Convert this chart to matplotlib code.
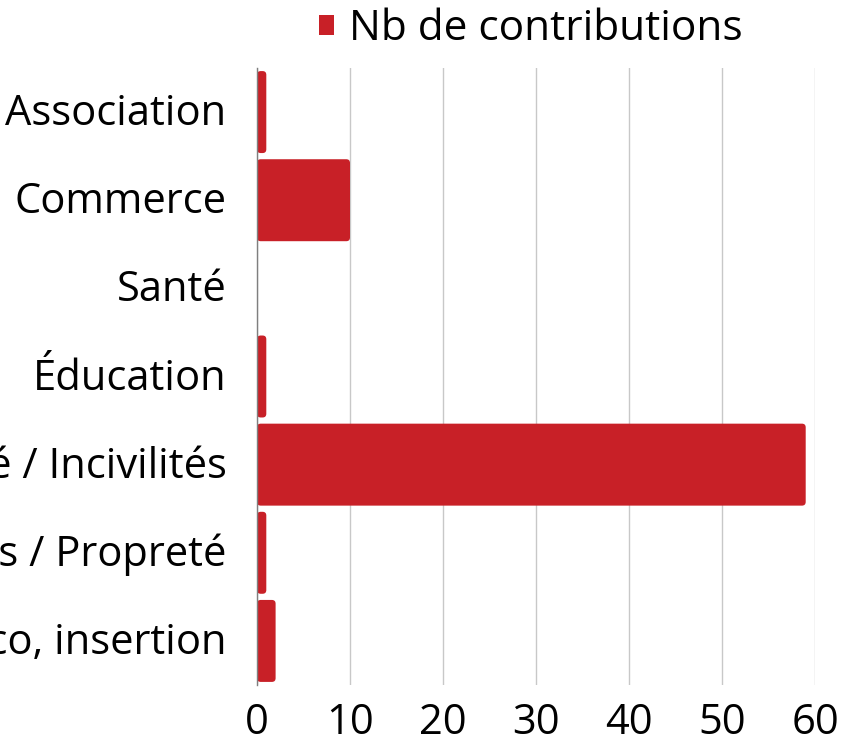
import matplotlib
matplotlib.use("Agg")
import matplotlib.pyplot as plt
import matplotlib.transforms as mtransforms
from matplotlib.patches import FancyBboxPatch, Patch

plt.rcParams["font.family"] = ["Open Sans", "DejaVu Sans"]

# données
categories = ["Association", "Commerce", "Santé", "Éducation",
              "Sécurité / Incivilités", "Déchets / Propreté", "Emploi, éco, insertion"]
contributions = [1, 10, 0, 1, 59, 1, 2]
xticks = [0, 10, 20, 30, 40, 50, 60]
serie = "Nb de contributions"

rouge = "#C82027"

fig = plt.figure(figsize=(8.46, 7.46), dpi=100)
ax = fig.add_axes([257 / 846, 1 - 685 / 746, (815 - 257) / 846, (685 - 68) / 746])

ypos = list(range(len(categories)))
bars = ax.barh(ypos, contributions, height=0.93, color=rouge)
ax.set_ylim(len(categories) - 0.5, -0.5)
ax.set_xlim(0, 60)

# coins arrondis : on remplace chaque barre par un FancyBboxPatch
x_per_px = 60 / 558
y_per_px = 7 / 617
for b in bars:
    x, y = b.get_x(), b.get_y()
    w, h = b.get_width(), b.get_height()
    b.set_visible(False)
    if w <= 0:
        continue
    r = min(0.4, w / 2)
    p = FancyBboxPatch((x, y), w, h,
                       boxstyle=f"round,pad=0,rounding_size={r}",
                       mutation_aspect=y_per_px / x_per_px,
                       facecolor=rouge, edgecolor="none", zorder=3)
    ax.add_patch(p)

ax.set_yticks(ypos)
ax.set_yticklabels(categories)
ax.set_xticks(xticks)
ax.tick_params(axis="both", length=0, labelsize=30)
ax.tick_params(axis="y", pad=22)
ax.tick_params(axis="x", pad=12)

# petit décalage vertical des libellés (comme dans l'original)
decal = mtransforms.ScaledTranslation(0, 3 / 100, fig.dpi_scale_trans)
for lab in ax.get_yticklabels():
    lab.set_transform(lab.get_transform() + decal)

ax.grid(axis="x", color="#C8C8C8", linewidth=1)
ax.set_axisbelow(True)
for s in ["top", "right", "bottom"]:
    ax.spines[s].set_visible(False)
ax.spines["left"].set_color("#7F7F7F")
ax.spines["left"].set_linewidth(1)
ax.spines["left"].set_zorder(4)

handle = Patch(facecolor=rouge, edgecolor="none")
fig.legend([handle], [serie], loc="center",
           bbox_to_anchor=(531 / 846, 1 - 29 / 746),
           frameon=False, fontsize=30.5, borderpad=0,
           handlelength=0.36, handleheight=0.36, handletextpad=0.35)

plt.savefig("out.png", dpi=100)
plt.close()
